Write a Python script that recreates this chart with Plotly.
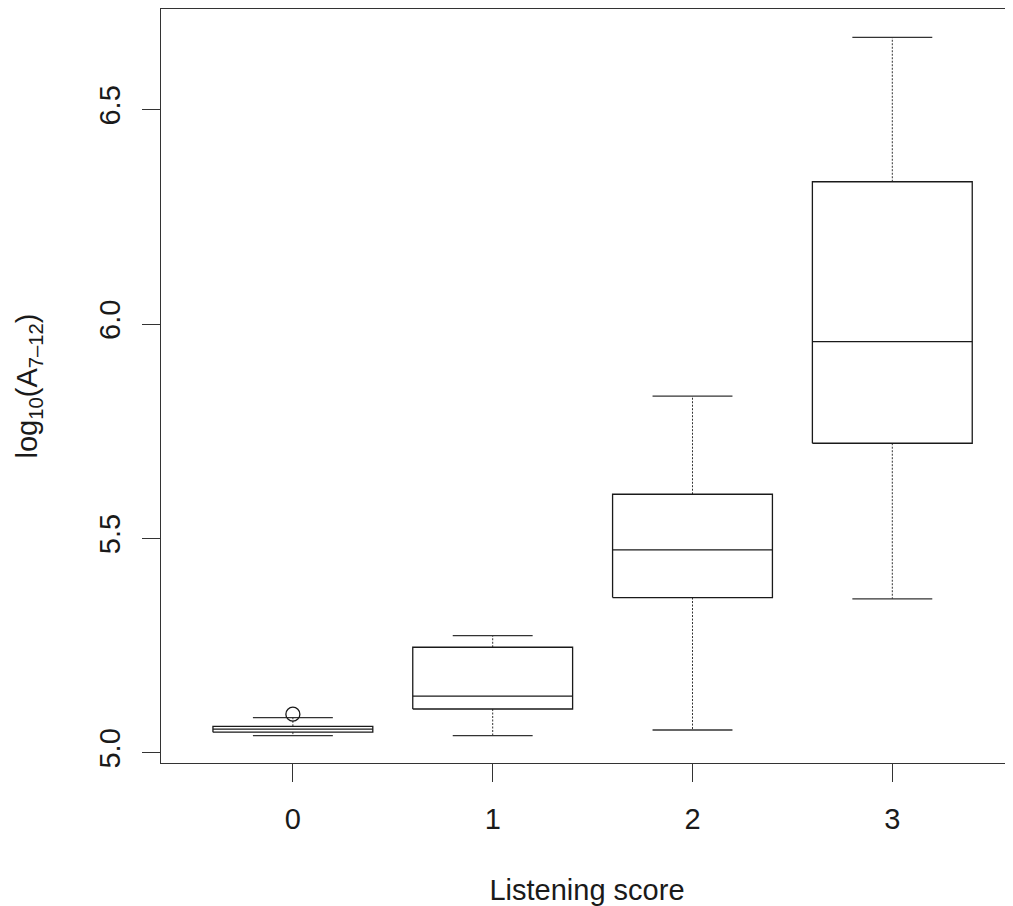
import plotly.graph_objects as go

# Data
categories = [0, 1, 2, 3]
tick_labels = ["0", "1", "2", "3"]
lower_whisker = [5.040, 5.040, 5.053, 5.359]
q1 = [5.048, 5.102, 5.362, 5.722]
median = [5.055, 5.132, 5.473, 5.959]
q3 = [5.0616, 5.246, 5.603, 6.332]
upper_whisker = [5.0817, 5.273, 5.832, 6.669]
outlier_x = [0]
outlier_y = [5.090]

BOX_HALF = 0.4
STAPLE_HALF = 0.2
LINE = "#1a1a1a"
FONT = "Liberation Sans, Arial, Helvetica, sans-serif"

fig = go.Figure()

bx, by = [], []
mx, my = [], []
wx, wy = [], []
sx, sy = [], []
for c, lo, a, m, b, hi in zip(categories, lower_whisker, q1, median, q3, upper_whisker):
    bx += [c - BOX_HALF, c + BOX_HALF, c + BOX_HALF, c - BOX_HALF, c - BOX_HALF, None]
    by += [a, a, b, b, a, None]
    mx += [c - BOX_HALF, c + BOX_HALF, None]
    my += [m, m, None]
    wx += [c, c, None, c, c, None]
    wy += [b, hi, None, a, lo, None]
    sx += [c - STAPLE_HALF, c + STAPLE_HALF, None, c - STAPLE_HALF, c + STAPLE_HALF, None]
    sy += [hi, hi, None, lo, lo, None]

fig.add_trace(go.Scatter(x=wx, y=wy, mode="lines", line=dict(color="#333333", width=1, dash="2px,1.5px"),
                         hoverinfo="skip", showlegend=False))
fig.add_trace(go.Scatter(x=sx, y=sy, mode="lines", line=dict(color="#333333", width=1.3),
                         hoverinfo="skip", showlegend=False))
fig.add_trace(go.Scatter(x=bx, y=by, mode="lines", line=dict(color=LINE, width=1.3),
                         hoverinfo="skip", showlegend=False))
fig.add_trace(go.Scatter(x=mx, y=my, mode="lines", line=dict(color=LINE, width=1.3),
                         hoverinfo="skip", showlegend=False))
fig.add_trace(go.Scatter(x=outlier_x, y=outlier_y, mode="markers",
                         marker=dict(symbol="circle-open", size=14, color=LINE, line=dict(width=1.3, color=LINE)),
                         hoverinfo="skip", showlegend=False))

fig.update_layout(
    width=1005, height=898,
    margin=dict(l=153, r=0, t=1, b=143),
    paper_bgcolor="white", plot_bgcolor="white",
    font=dict(family=FONT, size=29, color="#1a1a1a"),
    xaxis=dict(
        range=[-0.66, 3.604],
        tickvals=categories, ticktext=tick_labels,
        showgrid=False, zeroline=False,
        showline=True, linecolor="#333333", linewidth=1.3, mirror=True,
        ticks="outside", ticklen=18, tickwidth=1.3, tickcolor="#333333",
        ticklabelstandoff=12,
        title=dict(text="Listening score", standoff=47, font=dict(size=29)),
    ),
    yaxis=dict(
        range=[4.976, 6.735],
        tickvals=[5.0, 5.5, 6.0, 6.5], ticktext=["5.0", "5.5", "6.0", "6.5"],
        tickangle=-90,
        showgrid=False, zeroline=False,
        showline=True, linecolor="#333333", linewidth=1.3, mirror=False,
        ticks="outside", ticklen=18, tickwidth=1.3, tickcolor="#333333",
        ticklabelstandoff=10,
        title=dict(text="log<sub>10</sub>(A<sub>7\u201312</sub>)", standoff=48, font=dict(size=29)),
    ),
)

fig.write_html("out.html")
